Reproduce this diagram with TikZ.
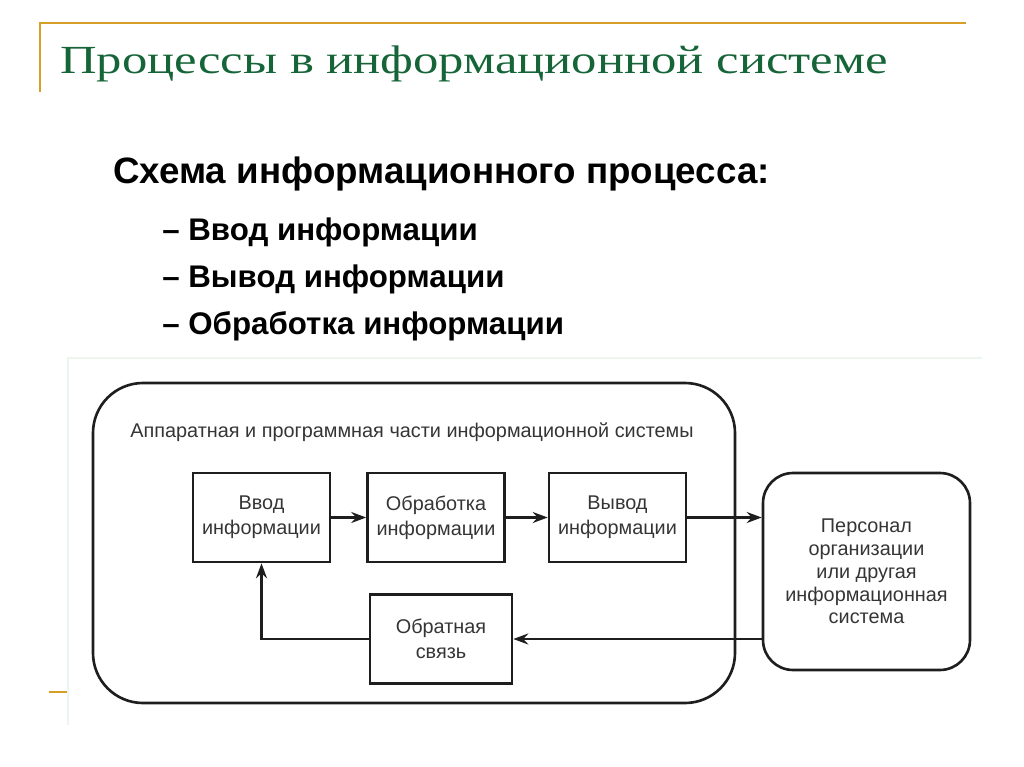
\documentclass[tikz,border=0pt]{standalone}
\usepackage{fontspec}
\setmainfont{Liberation Serif}
\setsansfont{Liberation Sans}
\usetikzlibrary{arrows.meta}
\definecolor{slidegreen}{RGB}{22,101,56}
\definecolor{slidegold}{RGB}{214,160,40}
\definecolor{ink}{RGB}{30,30,30}
\definecolor{pasteedge}{RGB}{236,246,238}

\begin{document}
\begin{tikzpicture}[x=0.02cm, y=-0.02cm,
  blk/.style={rectangle, draw=ink, line width=1.5pt, minimum width=2.74cm, minimum height=1.78cm,
    align=center, text=ink!90, font=\sffamily\fontsize{11.3}{14.2}\selectfont},
  arr/.style={-{Stealth[length=3mm,width=2.2mm,inset=1mm]}, line width=1.5pt, draw=ink},
  item/.style={anchor=base west, inner sep=0pt, font=\sffamily\bfseries\fontsize{17.8}{20}\selectfont}]
\useasboundingbox (0,0) rectangle (1024,767);

% slide frame and headings
\draw[slidegold, line width=1.3pt] (40,92) -- (40,23) -- (966,23);
\draw[slidegold, line width=1.3pt] (49,692) -- (67,692);
\node[anchor=base west, inner sep=0pt, text=slidegreen, font=\fontsize{22.7}{26}\selectfont] (title) at (60,74)
  {\scalebox{1.27}[1]{Процессы в информационной системе}};
\node[item, font=\sffamily\bfseries\fontsize{20.9}{24}\selectfont] (head) at (113,183) {Схема информационного процесса:};
\node[item] (b1) at (162,240) {– Ввод информации};
\node[item] (b2) at (162,287) {– Вывод информации};
\node[item] (b3) at (162,334) {– Обработка информации};

% pasted scheme
\draw[pasteedge, line width=0.8pt] (68,725) -- (68,358) -- (982,358);
\draw[ink, line width=1.5pt, rounded corners=1cm] (93,383) rectangle (735,703);
\node[anchor=base west, inner sep=0pt, text=ink!90, font=\sffamily\fontsize{11.3}{13}\selectfont] (hwsw) at (130,437)
  {Аппаратная и программная части информационной системы};

\node[blk] (input) at (261.5,517.5) {Ввод\\информации};
\node[blk] (proc) at (436,517.5) {Обработка\\информации};
\node[blk] (output) at (617.5,517.5) {Вывод\\информации};
\node[blk, minimum width=2.84cm] (fb) at (441,639) {Обратная\\связь};
\node[blk, rounded corners=0.6cm, minimum width=4.14cm, minimum height=3.94cm,
  font=\sffamily\fontsize{11.3}{13}\selectfont] (user) at (866.5,571.5)
  {Персонал\\организации\\или другая\\информационная\\система};

\draw[arr] (input) -- (proc);
\draw[arr] (proc) -- (output);
\draw[arr] (output) -- (output -| user.west);
\draw[arr] (user.west |- fb) -- (fb);
\draw[arr] (fb.west) -| (input.south);

\end{tikzpicture}
\end{document}
